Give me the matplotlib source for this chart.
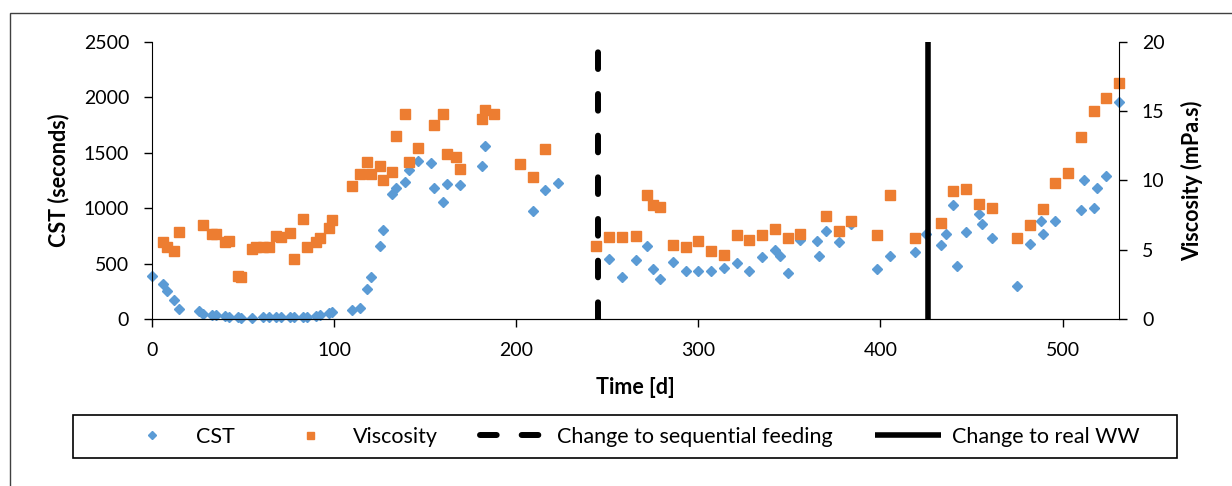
import matplotlib
matplotlib.use("Agg")
import matplotlib.pyplot as plt
from matplotlib.patches import Rectangle

plt.rcParams["font.family"] = ["Lato", "DejaVu Sans"]
plt.rcParams["lines.scale_dashes"] = False

# CST, seconds
cst_day = [0, 6, 8, 12, 15, 26, 28, 33, 35, 40, 42, 47, 49, 55, 61, 64, 68, 71, 76, 78,
           83, 85, 90, 92, 97, 99, 110, 114, 118, 120, 125, 127, 132, 134, 139, 141, 146,
           153, 155, 160, 162, 169, 181, 183, 209, 216, 223, 251, 258, 266, 272, 275, 279,
           286, 293, 300, 307, 314, 321, 328, 335, 342, 345, 349, 356, 365, 366, 370, 377,
           384, 398, 405, 419, 425, 433, 436, 440, 442, 447, 454, 456, 461, 475, 482, 488,
           489, 496, 510, 512, 517, 519, 524, 531]
cst_sec = [385, 316, 250, 172, 90, 69, 45, 36, 36, 27, 21, 18, 9, 9, 18, 18, 18, 18, 18, 18,
           21, 21, 30, 39, 51, 63, 84, 99, 271, 382, 654, 801, 1123, 1181, 1238, 1346, 1425,
           1407, 1181, 1051, 1220, 1211, 1377, 1557, 973, 1163, 1226, 545, 383, 533, 657, 452, 361,
           518, 431, 437, 431, 461, 509, 431, 560, 623, 566, 416, 714, 702, 569, 795, 696,
           861, 452, 569, 602, 768, 666, 765, 1024, 479, 783, 946, 855, 732, 295, 678, 880,
           765, 880, 982, 1253, 1003, 1184, 1292, 1958]

# viscosity, mPa.s
visc_day = [6, 8, 12, 15, 28, 33, 35, 40, 42, 47, 49, 55, 57, 61, 64, 68, 71, 76, 78, 83,
            85, 90, 92, 97, 99, 110, 114, 118, 120, 125, 127, 132, 134, 139, 141, 146, 155,
            160, 162, 167, 169, 181, 183, 188, 202, 209, 216, 244, 251, 258, 266, 272, 275,
            279, 286, 293, 300, 307, 314, 321, 328, 335, 342, 349, 356, 370, 377, 384, 398,
            405, 419, 433, 440, 447, 454, 461, 475, 482, 489, 496, 503, 510, 517, 524, 531]
visc_mpas = [5.57, 5.2, 4.94, 6.29, 6.77, 6.15, 6.15, 5.59, 5.66, 3.13, 3.01, 5.04, 5.2, 5.2,
             5.2, 5.98, 5.93, 6.22, 4.34, 7.23, 5.2, 5.52, 5.81, 6.58, 7.16, 9.57, 10.48,
             11.35, 10.48, 11.06, 10.0, 10.58, 13.18, 14.77, 11.35, 12.36, 14.0, 14.82, 11.9,
             11.71, 10.82, 14.41, 15.09, 14.75, 11.2, 10.26, 12.24, 5.23, 5.88, 5.9, 5.98,
             8.92, 8.24, 8.1, 5.33, 5.2, 5.61, 4.89, 4.6, 6.07, 5.71, 6.07, 6.48, 5.86, 6.15,
             7.45, 6.38, 7.04, 6.07, 8.96, 5.86, 6.94, 9.25, 9.4, 8.31, 8.02, 5.81, 6.79,
             7.95, 9.83, 10.55, 13.16, 14.99, 15.95, 16.99]

seq_feed_day = 245
real_ww_day = 426

x_ticks = [0, 100, 200, 300, 400, 500]
cst_ticks = [0, 500, 1000, 1500, 2000, 2500]
visc_ticks = [0, 5, 10, 15, 20]

blue = "#5B9BD5"
orange = "#ED7D31"
fs = 14      # tick labels
fs_big = 15.5  # axis titles, legend

fig = plt.figure(figsize=(12.32, 4.86), dpi=100)
ax = fig.add_axes([0.1234, 0.3436, 0.7849, 0.5706])
ax2 = ax.twinx()

h_cst, = ax.plot(cst_day, cst_sec, ls="none", marker="D", ms=5.2, color=blue,
                 mec=blue, label="CST", clip_on=False)
h_visc, = ax2.plot(visc_day, visc_mpas, ls="none", marker="s", ms=7.2, color=orange,
                   mec=orange, label="Viscosity", clip_on=False)
h_seq = ax2.axvline(seq_feed_day, color="black", lw=4.3, dashes=(12, 18),
                    dash_capstyle="round", label="Change to sequential feeding")
h_ww = ax2.axvline(real_ww_day, color="black", lw=4.0, solid_capstyle="butt",
                   ymin=-0.005, label="Change to real WW")

ax.set_xlim(0, 531)
ax.set_ylim(0, 2500)
ax2.set_ylim(0, 20)
ax.set_xticks(x_ticks)
ax.set_yticks(cst_ticks)
ax2.set_yticks(visc_ticks)

for a in (ax, ax2):
    a.spines["top"].set_visible(False)
    a.tick_params(direction="out", length=5.5, width=1, pad=11, labelsize=fs)
ax.spines["right"].set_visible(False)
ax2.spines["left"].set_visible(False)

ax.set_xlabel("Time [d]", fontsize=fs_big, fontweight="bold")
ax.xaxis.set_label_coords(0.5, -0.21)
ax.set_ylabel("CST (seconds)", fontsize=fs_big, fontweight="bold", va="center")
ax.yaxis.set_label_coords(-0.097, 0.5)
ax2.set_ylabel("Viscosity (mPa.s)", fontsize=fs_big, fontweight="bold", va="center",
               rotation=90)
ax2.yaxis.set_label_coords(1.0755, 0.5)

fig.legend([h_cst, h_visc, h_seq, h_ww],
           ["CST", "Viscosity", "Change to sequential feeding", "Change to real WW"],
           ncol=4, loc="center", bbox_to_anchor=(0.5106, 0.1018), frameon=False,
           fontsize=fs_big, handlelength=3.07, handletextpad=0.5, columnspacing=1.95,
           markerscale=0.7)

# legend frame and chart border
fig.patches.append(Rectangle((0.05925, 0.0576), 0.8961, 0.0885, transform=fig.transFigure,
                             fill=False, edgecolor="black", lw=1.2))
fig.patches.append(Rectangle((10 / 1232, -0.05), 1.1, 1.0239, transform=fig.transFigure,
                             fill=False, edgecolor="#404040", lw=1))

fig.savefig("out.png", dpi=100)
